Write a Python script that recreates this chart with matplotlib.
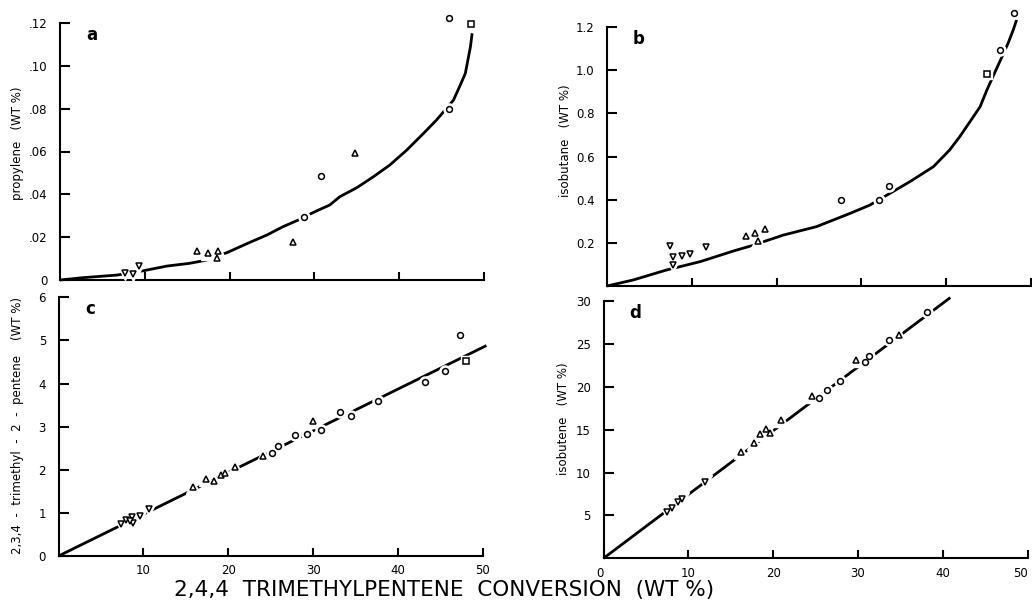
import numpy as np
import matplotlib
matplotlib.use('Agg')
import matplotlib.pyplot as plt

plt.rcParams['font.family'] = ['DejaVu Sans']

# --- panel a: propylene ---
a_down_x = [7.7, 8.6, 9.3]
a_down_y = [0.0033, 0.0030, 0.0065]
a_up_x = [16.1, 17.5, 18.6, 18.5, 27.5, 34.8]
a_up_y = [0.0136, 0.0127, 0.0136, 0.0105, 0.0177, 0.0593]
a_circ_x = [28.8, 30.8, 45.9, 45.9]
a_circ_y = [0.0295, 0.0486, 0.0800, 0.1224]
a_sq_x = [48.5]
a_sq_y = [0.1196]
a_fit_x = [0, 2.75, 6.7, 9.8, 12.6, 15.3, 17.3, 19.7, 22.4, 24.4, 26.3, 28.1, 29.9, 31.8,
           33.0, 35.0, 36.95, 38.9, 40.9, 42.8, 44.4, 46.4, 47.2, 47.8, 48.1, 48.4, 48.6]
a_fit_y = [0, 0.0011, 0.0023, 0.0043, 0.0065, 0.0078, 0.0093, 0.0128, 0.0176, 0.0210, 0.0249,
           0.0280, 0.0316, 0.0350, 0.0389, 0.0431, 0.0482, 0.0537, 0.0607, 0.0682, 0.0747,
           0.0840, 0.0910, 0.0965, 0.1027, 0.1089, 0.1152]

# --- panel b: isobutane ---
b_down_x = [7.4, 7.8, 7.8, 8.8, 9.8, 11.7]
b_down_y = [0.187, 0.136, 0.097, 0.139, 0.147, 0.182]
b_up_x = [16.4, 17.5, 17.8, 18.6]
b_up_y = [0.233, 0.244, 0.208, 0.262]
b_circ_x = [27.6, 32.1, 33.2, 46.3, 48.0]
b_circ_y = [0.398, 0.398, 0.464, 1.093, 1.263]
b_sq_x = [44.8]
b_sq_y = [0.981]
b_fit_x = [0, 3.1, 7.0, 11.0, 14.9, 16.9, 20.8, 24.7, 28.7, 31.0, 33.4, 35.7, 38.5, 40.4,
           41.6, 42.8, 44.0, 44.8, 45.6, 46.5, 47.3, 47.9, 48.3]
b_fit_y = [0, 0.028, 0.074, 0.113, 0.162, 0.185, 0.236, 0.275, 0.337, 0.375, 0.430, 0.483,
           0.553, 0.630, 0.692, 0.761, 0.831, 0.908, 0.978, 1.055, 1.125, 1.186, 1.233]

# --- panel c: 2,3,4-trimethyl-2-pentene ---
c_down_x = [7.4, 7.9, 8.6, 8.8, 8.4, 9.6, 10.7]
c_down_y = [0.74, 0.84, 0.90, 0.76, 0.82, 0.93, 1.08]
c_up_x = [15.9, 17.4, 18.3, 19.1, 19.6, 20.8, 24.1, 30.0]
c_up_y = [1.59, 1.79, 1.75, 1.88, 1.92, 2.06, 2.32, 3.14]
c_circ_x = [25.1, 25.8, 27.8, 29.3, 30.9, 33.2, 34.4, 37.6, 43.2, 45.5, 47.3]
c_circ_y = [2.38, 2.55, 2.81, 2.84, 2.92, 3.33, 3.25, 3.60, 4.03, 4.29, 5.13]
c_sq_x = [48.0]
c_sq_y = [4.52]
c_fit_x = [0, 50.4]
c_fit_y = [0, 4.88]

# --- panel d: isobutene ---
d_down_x = [7.45, 8.1, 8.8, 9.3, 12.0]
d_down_y = [5.43, 5.9, 6.6, 6.9, 8.86]
d_up_x = [16.2, 17.8, 18.5, 19.2, 19.6, 20.9, 24.6, 29.8, 34.9]
d_up_y = [12.35, 13.47, 14.45, 15.07, 14.57, 16.1, 18.95, 23.1, 26.0]
d_circ_x = [25.4, 26.3, 27.9, 30.8, 31.3, 33.7, 38.1]
d_circ_y = [18.65, 19.6, 20.66, 22.9, 23.6, 25.5, 28.7]
d_fit_x = [0, 40.9]
d_fit_y = [0, 30.4]

W, H = 1032, 600
fig = plt.figure(figsize=(W / 100, H / 100), dpi=100)


def px_axes(x0, x50, y0, ytop):
    return fig.add_axes([x0 / W, 1 - y0 / H, (x50 - x0) / W, (y0 - ytop) / H])


def style(ax, yticks, ylabels, xlabels):
    for s in ['top', 'right']:
        ax.spines[s].set_visible(False)
    for s in ['left', 'bottom']:
        ax.spines[s].set_linewidth(1.5)
    ax.set_xlim(0, 50)
    ax.set_yticks(yticks)
    ax.set_yticklabels(ylabels)
    if xlabels:
        ax.set_xticks([0, 10, 20, 30, 40, 50])
        ax.set_xticklabels(['0', '10', '20', '30', '40', '50'])
    else:
        ax.set_xticks([10, 20, 30, 40, 50])
        ax.set_xticklabels([])
    ax.tick_params(axis='y', direction='in', length=7, width=1.5, pad=9, labelsize=8.5)
    ax.tick_params(axis='x', direction='in', length=6, width=1.5, pad=6, labelsize=8.5)


def points(ax, xs, ys, marker, ms):
    # white halo breaks the fitted line around each point
    ax.plot(xs, ys, ls='none', marker=marker, ms=ms * 1.9, mfc='white', mec='white',
            zorder=3, clip_on=False)
    ax.plot(xs, ys, ls='none', marker=marker, ms=ms, mfc='white', mec='black', mew=1.1,
            zorder=4, clip_on=False)


def panel(ax, series, fit_x, fit_y):
    ax.plot(fit_x, fit_y, color='black', lw=2.0, zorder=2, clip_on=False,
            solid_capstyle='butt', solid_joinstyle='round')
    for xs, ys, m, ms in series:
        points(ax, xs, ys, m, ms)


ax_a = px_axes(60, 484, 280, 23)
ax_a.set_ylim(0, 0.12)
style(ax_a, [0, 0.02, 0.04, 0.06, 0.08, 0.10, 0.12],
      ['0', '.02', '.04', '.06', '.08', '.10', '.12'], False)
panel(ax_a, [(a_down_x, a_down_y, 'v', 5.0), (a_up_x, a_up_y, '^', 5.0),
             (a_circ_x, a_circ_y, 'o', 4.2), (a_sq_x, a_sq_y, 's', 4.0)], a_fit_x, a_fit_y)

ax_b = px_axes(607, 1031, 286, 27)
ax_b.set_ylim(0, 1.2)
style(ax_b, [0.2, 0.4, 0.6, 0.8, 1.0, 1.2], ['0.2', '0.4', '0.6', '0.8', '1.0', '1.2'], False)
panel(ax_b, [(b_down_x, b_down_y, 'v', 5.0), (b_up_x, b_up_y, '^', 5.0),
             (b_circ_x, b_circ_y, 'o', 4.2), (b_sq_x, b_sq_y, 's', 4.0)], b_fit_x, b_fit_y)

ax_c = px_axes(58.5, 483, 556, 297.3)
ax_c.set_ylim(0, 6)
style(ax_c, [0, 1, 2, 3, 4, 5, 6], ['0', '1', '2', '3', '4', '5', '6'], True)
ax_c.set_xticks([10, 20, 30, 40, 50])
ax_c.set_xticklabels(['10', '20', '30', '40', '50'])
panel(ax_c, [(c_down_x, c_down_y, 'v', 5.0), (c_up_x, c_up_y, '^', 5.0),
             (c_circ_x, c_circ_y, 'o', 4.2), (c_sq_x, c_sq_y, 's', 4.0)], c_fit_x, c_fit_y)

ax_d = px_axes(603.5, 1027.5, 558.3, 301)
ax_d.set_ylim(0, 30)
style(ax_d, [5, 10, 15, 20, 25, 30], ['5', '10', '15', '20', '25', '30'], True)
ax_d.get_xticklabels()[0].set_horizontalalignment('right')
ax_d.get_xticklabels()[-1].set_horizontalalignment('right')
panel(ax_d, [(d_down_x, d_down_y, 'v', 5.0), (d_up_x, d_up_y, '^', 5.0),
             (d_circ_x, d_circ_y, 'o', 4.2)], d_fit_x, d_fit_y)

# panel letters
for ax, lab in [(ax_a, 'a'), (ax_b, 'b'), (ax_c, 'c'), (ax_d, 'd')]:
    ax.text(0.075, 0.955, lab, transform=ax.transAxes, fontsize=12, fontweight='bold',
            ha='center', va='center')

# axis titles
fig.text(18 / W, 1 - 143 / H, 'propylene   (WT %)', rotation=90, ha='center', va='center',
         fontsize=8.5)
fig.text(565 / W, 1 - 141 / H, 'isobutane   (WT %)', rotation=90, ha='center', va='center',
         fontsize=8.5)
fig.text(18 / W, 1 - 425 / H, '2,3,4  -  trimethyl  -  2  -  pentene    (WT %)', rotation=90,
         ha='center', va='center', fontsize=8.5)
fig.text(563 / W, 1 - 419 / H, 'isobutene   (WT %)', rotation=90, ha='center', va='center',
         fontsize=8.5)
fig.text(444 / W, 1 - 590 / H, '2,4,4  TRIMETHYLPENTENE  CONVERSION  (WT %)', ha='center',
         va='center', fontsize=15.5)

fig.savefig('out.png', dpi=100)
